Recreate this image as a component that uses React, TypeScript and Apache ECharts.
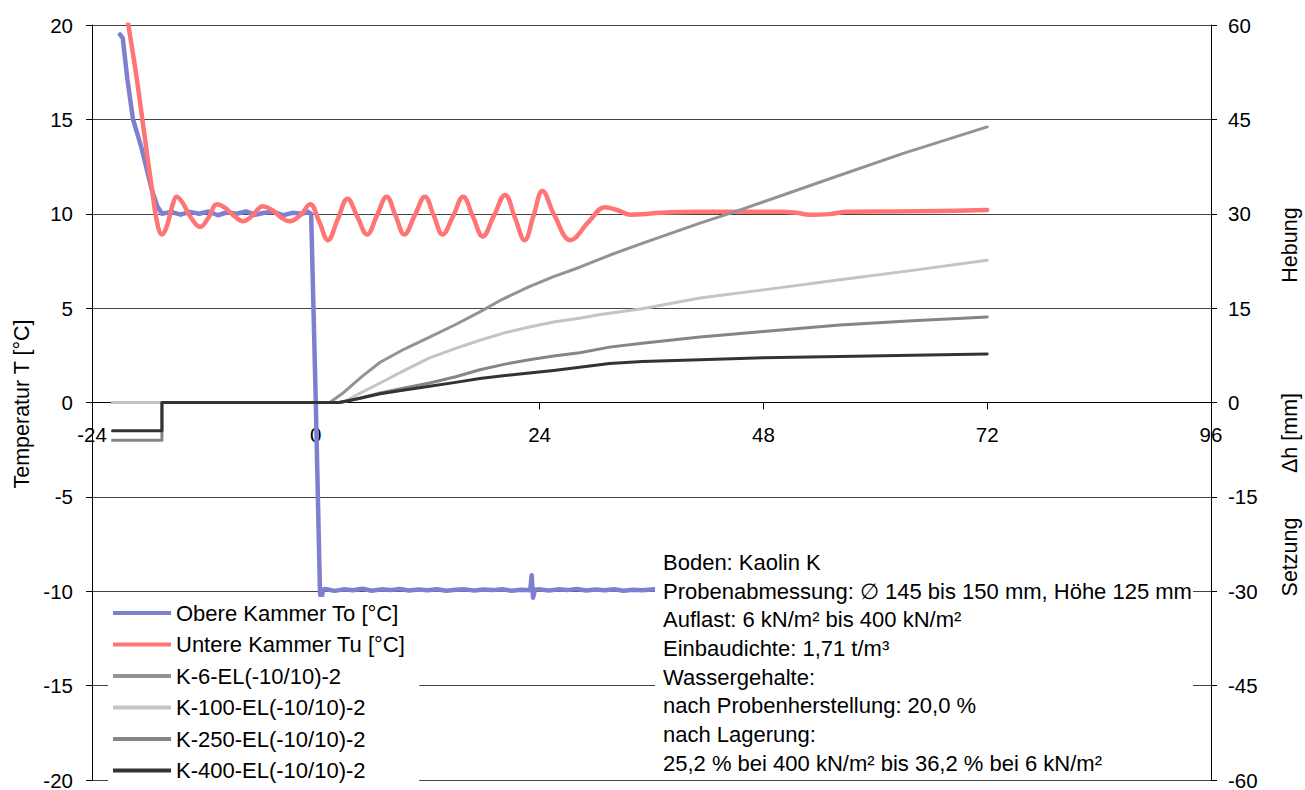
import React, { useEffect, useRef } from "react";
import * as echarts from "echarts";

const FONT = "'Liberation Sans', Arial, sans-serif";

const xMin = -24;
const xMax = 96;
const xStep = 24;
const tempMin = -20;
const tempMax = 20;
const tempStep = 5;
const dhMin = -60;
const dhMax = 60;
const dhStep = 15;

const seriesNames = [
  "Obere Kammer To [°C]",
  "Untere Kammer Tu [°C]",
  "K-6-EL(-10/10)-2",
  "K-100-EL(-10/10)-2",
  "K-250-EL(-10/10)-2",
  "K-400-EL(-10/10)-2",
];

// time [h], temperature [°C]
const upperChamber: [number, number][] = [
  [-21.0, 19.5], [-20.7, 19.3], [-20.2, 17.1], [-19.6, 15.0], [-18.7, 13.5], [-17.6, 11.3],
  [-17.0, 10.4], [-16.5, 10.0], [-15.5, 10.1], [-14.5, 9.95], [-13.5, 10.1], [-12.5, 10.0],
  [-11.5, 10.12], [-10.5, 9.92], [-9.5, 10.08], [-8.5, 10.0], [-7.5, 10.12], [-6.5, 9.95],
  [-5.5, 10.05], [-4.5, 10.1], [-3.5, 9.92], [-2.5, 10.05], [-1.5, 10.0], [-0.8, 10.1],
  [-0.5, 10.0], [0.0, 0.0], [0.45, -10.1], [0.6, -10.4], [0.8, -9.9], [1, -9.88], [2, -9.98],
  [3, -9.9], [4, -9.95], [5, -9.87], [6, -9.97], [7, -9.9], [8, -9.94], [9, -9.88], [10, -9.96],
  [11, -9.91], [12, -9.95], [13, -9.89], [14, -9.97], [15, -9.92], [16, -9.9], [17, -9.96],
  [18, -9.91], [19, -9.94], [20, -9.89], [21, -9.97], [22, -9.92], [23, -9.95], [23.15, -9.15],
  [23.3, -10.35], [23.5, -9.92], [24, -9.9], [25, -9.96], [26, -9.9], [27, -9.94], [28, -9.88],
  [29, -9.96], [30, -9.91], [31, -9.95], [32, -9.89], [33, -9.97], [34, -9.92], [35, -9.95],
  [36.4, -9.9], [38, -9.94], [40, -9.9], [44, -9.95], [48, -9.9], [52, -9.94], [56, -9.9],
  [60, -9.95], [64, -9.9], [68, -9.94], [72, -9.92],
];

const lowerChamber: [number, number][] = [
  [-20.6, 21.6], [-20.1, 20.0], [-19.3, 17.5], [-18.6, 15.0], [-17.6, 11.4], [-17.0, 9.5],
  [-16.5, 8.9], [-16.0, 9.3], [-15.4, 10.4], [-14.9, 10.9], [-14.3, 10.6], [-13.4, 9.8],
  [-12.4, 9.3], [-11.5, 9.8], [-10.6, 10.5], [-9.7, 10.3], [-8.8, 9.9], [-7.8, 9.6],
  [-6.8, 9.9], [-5.7, 10.4], [-4.7, 10.2], [-3.7, 9.8], [-2.8, 9.6], [-1.7, 9.9],
  [-0.6, 10.5], [0.35, 9.6], [1.3, 8.6], [2.35, 9.7], [3.4, 10.8], [4.45, 9.85], [5.5, 8.9],
  [6.55, 9.9], [7.6, 10.9], [8.55, 9.9], [9.5, 8.9], [10.6, 9.9], [11.7, 10.9], [12.65, 9.9],
  [13.6, 8.9], [14.7, 9.85], [15.8, 10.9], [16.85, 9.85], [17.9, 8.8], [19.1, 9.9],
  [20.3, 11.0], [21.35, 9.8], [22.4, 8.6], [23.35, 9.9], [24.3, 11.2], [25.6, 9.9],
  [27.3, 8.6], [29.3, 9.6], [31.0, 10.35], [32.3, 10.2], [33.7, 9.95], [35.0, 9.97],
  [37.0, 10.05], [41.0, 10.1], [45.0, 10.1], [50.0, 10.1], [51.5, 10.05], [53.0, 9.95],
  [55.0, 9.98], [57.0, 10.1], [62.0, 10.12], [67.0, 10.15], [72.0, 10.2],
];

// time [h], Δh [mm]
const k6: [number, number][] = [
  [-21.8, 0], [-16.5, 0], [1.5, 0], [3, 1.6], [5, 4.2], [6.9, 6.4], [9.5, 8.5], [12.2, 10.4],
  [15, 12.4], [17.6, 14.4], [20, 16.4], [22.9, 18.4], [25.5, 20.0], [28.3, 21.5], [31.5, 23.4],
  [35, 25.3], [41.2, 28.5], [44.9, 30.3], [54.8, 35.4], [63, 39.6], [72, 43.8],
];
const k100: [number, number][] = [
  [-21.8, 0], [-16.5, 0], [2.9, 0], [4.5, 1.3], [6.9, 3.1], [9.5, 5.1], [12.2, 7.1], [15, 8.6],
  [17.6, 9.9], [20.3, 11.1], [22.9, 12.0], [25.5, 12.8], [28.3, 13.4], [30.5, 14.0], [35, 14.9],
  [41.2, 16.6], [48, 17.9], [56.2, 19.5], [64, 21.0], [72, 22.6],
];
const k250: [number, number][] = [
  [-21.8, -6.0], [-16.5, -6.0], [-16.5, 0], [2.5, 0], [4.5, 0.6], [6.9, 1.5], [9.5, 2.3],
  [12.2, 3.1], [15, 4.1], [17.6, 5.2], [20.3, 6.1], [22.9, 6.8], [25.5, 7.4], [28.3, 7.9],
  [31.5, 8.8], [35, 9.4], [41.2, 10.4], [48, 11.3], [56.2, 12.3], [64, 13.0], [72, 13.6],
];
const k400: [number, number][] = [
  [-21.8, -4.5], [-16.5, -4.5], [-16.5, 0], [2.5, 0], [4.5, 0.6], [6.9, 1.4], [9.5, 2.0],
  [12.2, 2.6], [15, 3.2], [17.6, 3.8], [20.3, 4.3], [22.9, 4.7], [25.5, 5.1], [28.3, 5.6],
  [31.5, 6.2], [35, 6.5], [41.2, 6.8], [48, 7.1], [56.2, 7.3], [64, 7.5], [72, 7.7],
];

const infoLines = [
  "Boden: Kaolin K",
  "Probenabmessung: \u2205 145 bis 150 mm, Höhe 125 mm",
  "Auflast: 6 kN/m² bis 400 kN/m²",
  "Einbaudichte: 1,71 t/m³",
  "Wassergehalte:",
  "nach Probenherstellung: 20,0 %",
  "nach Lagerung:",
  "25,2 % bei 400 kN/m² bis 36,2 % bei 6 kN/m²",
];

const colors = ["#7F7FCF", "#FF7575", "#939393", "#C4C4C4", "#858585", "#333333"];

const GRID_TOP = 25;
const GRID_BOTTOM_Y = 780;
const FS = 22;
const TICK_FS = 20.5;

export default function App() {
  const ref = useRef<HTMLDivElement>(null);
  useEffect(() => {
    if (!ref.current) return;
    const chart = echarts.init(ref.current, undefined, { renderer: "svg" });
    const labelStyle = { fontSize: TICK_FS, color: "#000", fontFamily: FONT };
    // distance from plot bottom up to the temperature zero line
    const zeroOffset = ((0 - tempMin) / (tempMax - tempMin)) * (GRID_BOTTOM_Y - GRID_TOP);
    const mk = (i: number, data: [number, number][], yIdx: number, width: number, smooth: any) => ({
      name: seriesNames[i],
      type: "line",
      yAxisIndex: yIdx,
      data,
      symbol: "none",
      showSymbol: false,
      smooth,
      clip: true,
      lineStyle: { color: colors[i], width, cap: "round", join: "round" },
      itemStyle: { color: colors[i] },
      z: 2 + i * 0.01,
    });
    const title = (text: string, x: number, y: number) => ({
      type: "text",
      z: 51,
      x,
      y,
      rotation: Math.PI / 2,
      style: { text, fontSize: 21.5, fontFamily: FONT, fill: "#000", align: "center", verticalAlign: "middle" },
    });
    chart.setOption({
      animation: false,
      backgroundColor: "#fff",
      textStyle: { fontFamily: FONT },
      grid: { left: 92, right: 94, top: GRID_TOP, bottom: 790 - GRID_BOTTOM_Y, containLabel: false, outerBoundsMode: "none" },
      xAxis: {
        type: "value",
        min: xMin,
        max: xMax,
        interval: xStep,
        position: "bottom",
        offset: -zeroOffset,
        axisLine: { onZero: false, lineStyle: { color: "#000", width: 1 } },
        axisTick: { show: true, inside: false, length: 7, lineStyle: { color: "#000" } },
        axisLabel: { ...labelStyle, margin: 21 },
        splitLine: { show: false },
      },
      yAxis: [
        {
          type: "value",
          min: tempMin,
          max: tempMax,
          interval: tempStep,
          position: "left",
          axisLine: { show: true, onZero: false, lineStyle: { color: "#000" } },
          axisTick: { show: true, length: 6, lineStyle: { color: "#000" } },
          axisLabel: { ...labelStyle, margin: 19 },
          splitLine: { show: true, lineStyle: { color: "#444", width: 1 } },
        },
        {
          type: "value",
          min: dhMin,
          max: dhMax,
          interval: dhStep,
          position: "right",
          axisLine: { show: true, onZero: false, lineStyle: { color: "#000" } },
          axisTick: { show: true, length: 6, lineStyle: { color: "#000" } },
          axisLabel: { ...labelStyle, margin: 17 },
          splitLine: { show: false },
        },
      ],
      legend: {
        orient: "vertical",
        left: 108,
        top: 597,
        padding: [4, 14, 4, 5],
        backgroundColor: "#fff",
        icon: "rect",
        itemWidth: 58,
        itemHeight: 4,
        itemGap: 7.5,
        textStyle: { fontSize: FS, lineHeight: 24, color: "#000", fontFamily: FONT },
        data: seriesNames,
        z: 20,
      },
      series: [
        mk(0, upperChamber, 0, 4.5, false),
        mk(1, lowerChamber, 0, 4.5, 0.4),
        mk(2, k6, 1, 3, false),
        mk(3, k100, 1, 3, false),
        mk(4, k250, 1, 3, false),
        mk(5, k400, 1, 3, false),
      ],
      graphic: [
        {
          type: "rect",
          z: 50,
          shape: { x: 655, y: 544, width: 538, height: 233 },
          style: { fill: "#fff" },
        },
        {
          type: "text",
          z: 51,
          x: 663,
          y: 548,
          style: {
            text: infoLines.join("\n"),
            fontSize: FS,
            fontFamily: FONT,
            lineHeight: 28.7,
            fill: "#000",
            verticalAlign: "top",
          },
        },
        title("Temperatur T [°C]", 22, 404),
        title("Hebung", 1290, 245),
        title("\u0394h [mm]", 1290, 433),
        title("Setzung", 1290, 557),
      ],
    });
    return () => chart.dispose();
  }, []);
  return (
    <div
      ref={ref}
      style={{ position: "fixed", left: 0, top: 0, width: 1305, height: 790, background: "#fff" }}
    />
  );
}
